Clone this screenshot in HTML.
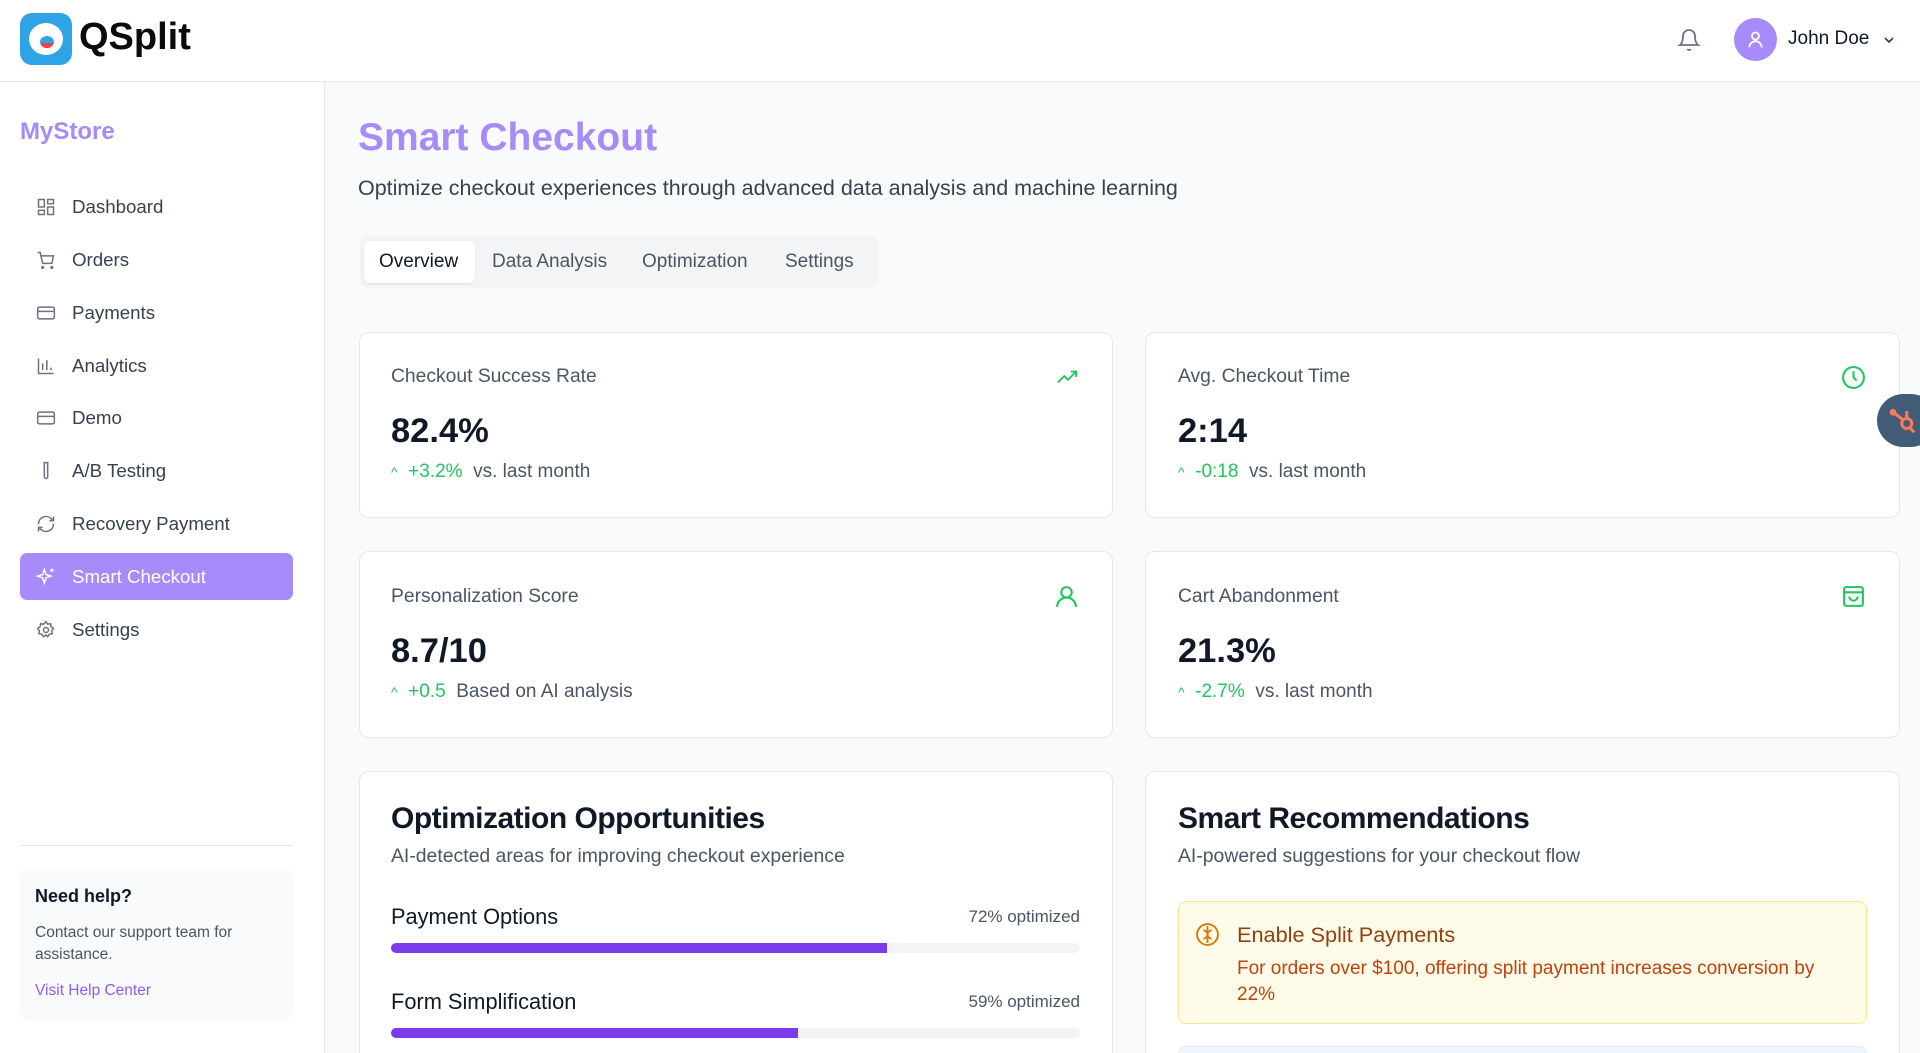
<!DOCTYPE html>
<html><head><meta charset="utf-8"><style>
*{box-sizing:border-box;margin:0;padding:0}
html{overflow:hidden}
body{width:1920px;height:1053px;overflow:hidden;background:#f9fafb;font-family:"Liberation Sans",Arial,sans-serif;position:relative;color:#111827}
.abs{position:absolute}
.header{left:0;top:0;width:1920px;height:82px;background:#fff;border-bottom:1px solid #e5e7eb}
.side{left:0;top:82px;width:325px;height:971px;background:#fff;border-right:1px solid #e5e7eb}
.nav{left:20px;width:273px;height:47px;border-radius:7px;font-size:18.7px;color:#374151;display:flex;align-items:center;padding-left:52px}
.nav svg{position:absolute;left:16px;top:14px}
.card{background:#fff;border:1px solid #e5e7eb;border-radius:10px}
.ct{font-size:19.3px;color:#4b5563}
.cv{font-size:34.5px;font-weight:bold;color:#111827}
.cc{font-size:19px;color:#4b5563}
.cc b{color:#22c55e;font-weight:normal}
</style></head><body>
<div class="abs header">
 <div class="abs" style="left:20px;top:13px;width:52px;height:52px;background:#2ea3e6;border-radius:12px">
  <div class="abs" style="left:9px;top:10px;width:34px;height:32px;background:#fff;border-radius:50%"></div>
  <div class="abs" style="left:20px;top:23px;width:14px;height:12px;background:#2ea3e6;border-radius:50%"></div>
  <div class="abs" style="left:21px;top:30px;width:12px;height:5px;background:#ef4444;border-radius:0 0 6px 6px"></div>
 </div>
 <div class="abs" style="left:79px;top:16px;font-size:38px;font-weight:bold;color:#0b0b0b">QSplit</div>
 <svg class="abs" style="left:1677px;top:27px" width="24" height="26" viewBox="0 0 24 24" fill="none" stroke="#6b7280" stroke-width="1.8"><path d="M6 8a6 6 0 0112 0c0 7 3 9 3 9H3s3-2 3-9"/><path d="M10.3 21a1.9 1.9 0 003.4 0"/></svg>
 <div class="abs" style="left:1734px;top:18px;width:43px;height:43px;border-radius:50%;background:#a78bfa"></div>
 <svg class="abs" style="left:1745px;top:29px" width="21" height="21" viewBox="0 0 24 24" fill="none" stroke="#fff" stroke-width="2"><circle cx="12" cy="8" r="4"/><path d="M5 21a7 7 0 0114 0"/></svg>
 <div class="abs" style="left:1788px;top:28px;font-size:19px;color:#111827">John Doe</div>
 <svg class="abs" style="left:1881px;top:32px" width="16" height="16" viewBox="0 0 24 24" fill="none" stroke="#374151" stroke-width="2.5"><path d="M6 9l6 6 6-6"/></svg>
</div>
<div class="abs side"></div>
<div class="abs" style="left:20px;top:118px;font-size:24px;font-weight:bold;color:#a78bfa">MyStore</div>
<div class="abs nav" style="top:183px"><svg width="20" height="20" viewBox="0 0 24 24" fill="none" stroke="#6b7280" stroke-width="1.8"><rect x="3" y="3" width="7" height="9"/><rect x="14" y="3" width="7" height="5"/><rect x="14" y="12" width="7" height="9"/><rect x="3" y="16" width="7" height="5"/></svg>Dashboard</div>
<div class="abs nav" style="top:236px"><svg width="20" height="20" viewBox="0 0 24 24" fill="none" stroke="#6b7280" stroke-width="1.8"><circle cx="8" cy="21" r="1"/><circle cx="19" cy="21" r="1"/><path d="M2 3h3l3 13h11l2-9H6"/></svg>Orders</div>
<div class="abs nav" style="top:289px"><svg width="20" height="20" viewBox="0 0 24 24" fill="none" stroke="#6b7280" stroke-width="1.8"><rect x="2" y="5" width="20" height="14" rx="2"/><path d="M2 10h20"/></svg>Payments</div>
<div class="abs nav" style="top:342px"><svg width="20" height="20" viewBox="0 0 24 24" fill="none" stroke="#6b7280" stroke-width="1.8"><path d="M3 3v18h18M8 17V9M13 17V5M18 17v-3"/></svg>Analytics</div>
<div class="abs nav" style="top:394px"><svg width="20" height="20" viewBox="0 0 24 24" fill="none" stroke="#6b7280" stroke-width="1.8"><rect x="2" y="5" width="20" height="14" rx="2"/><path d="M2 10h20"/></svg>Demo</div>
<div class="abs nav" style="top:447px"><svg width="20" height="20" viewBox="0 0 24 24" fill="none" stroke="#6b7280" stroke-width="1.8"><path d="M10 2v17a2 2 0 004 0V2M9 2h6"/></svg>A/B Testing</div>
<div class="abs nav" style="top:500px"><svg width="20" height="20" viewBox="0 0 24 24" fill="none" stroke="#6b7280" stroke-width="1.8"><path d="M3 12a9 9 0 0115-6.7L21 8M21 3v5h-5M21 12a9 9 0 01-15 6.7L3 16M3 21v-5h5"/></svg>Recovery Payment</div>
<div class="abs nav" style="top:553px;background:#a78bfa;color:#fff"><svg width="20" height="20" viewBox="0 0 24 24" fill="none" stroke="#fff" stroke-width="1.8"><path d="M10 3l2 6 6 2-6 2-2 6-2-6-6-2 6-2zM19 2v4M17 4h4"/></svg>Smart Checkout</div>
<div class="abs nav" style="top:606px"><svg width="20" height="20" viewBox="0 0 24 24" fill="none" stroke="#6b7280" stroke-width="1.8"><circle cx="12" cy="12" r="3"/><path d="M12 2l2 3 3.5-.5.5 3.5 3 2-2 3 .5 3.5-3.5.5-2 3-2-2-3 2-2-3-3.5-.5.5-3.5-2-3 3-2 .5-3.5 3.5.5z"/></svg>Settings</div>
<div class="abs" style="left:20px;top:845px;width:273px;height:1px;background:#e5e7eb"></div>
<div class="abs" style="left:20px;top:869px;width:273px;height:151px;background:#f9fafb;border-radius:8px"></div>
<div class="abs" style="left:35px;top:886px;font-size:18px;font-weight:bold;color:#111827">Need help?</div>
<div class="abs" style="left:35px;top:922px;font-size:15.5px;line-height:22px;color:#4b5563;width:240px">Contact our support team for assistance.</div>
<div class="abs" style="left:35px;top:982px;font-size:15.5px;color:#8b5cf6">Visit Help Center</div>

<div class="abs" style="left:358px;top:116px;font-size:39px;font-weight:bold;color:#a78bfa">Smart Checkout</div>
<div class="abs" style="left:358px;top:176px;font-size:21.5px;color:#374151">Optimize checkout experiences through advanced data analysis and machine learning</div>
<div class="abs" style="left:360px;top:236px;width:518px;height:52px;background:#f3f4f6;border-radius:8px"></div>
<div class="abs" style="left:364px;top:241px;width:111px;height:42px;background:#fff;border-radius:6px;box-shadow:0 1px 2px rgba(0,0,0,.08)"></div>
<div class="abs" style="left:379px;top:251px;font-size:19px;color:#111827">Overview</div>
<div class="abs" style="left:492px;top:251px;font-size:19px;color:#4b5563">Data Analysis</div>
<div class="abs" style="left:642px;top:251px;font-size:19px;color:#4b5563">Optimization</div>
<div class="abs" style="left:785px;top:251px;font-size:19px;color:#4b5563">Settings</div>

<div class="abs card" style="left:359px;top:332px;width:754px;height:186px"></div>
<div class="abs card" style="left:1145px;top:332px;width:755px;height:186px"></div>
<div class="abs card" style="left:359px;top:551px;width:754px;height:187px"></div>
<div class="abs card" style="left:1145px;top:551px;width:755px;height:187px"></div>
<div class="abs card" style="left:359px;top:771px;width:754px;height:300px"></div>
<div class="abs card" style="left:1145px;top:771px;width:755px;height:300px"></div>

<div class="abs ct" style="left:391px;top:366px">Checkout Success Rate</div>
<div class="abs cv" style="left:391px;top:412px">82.4%</div>
<div class="abs cc" style="left:391px;top:461px"><b><span style="font-size:14px">^</span>&nbsp; +3.2%</b>&nbsp; vs. last month</div>
<svg class="abs" style="left:1054px;top:366px" width="26" height="22" viewBox="0 0 24 24" fill="none" stroke="#22c55e" stroke-width="2"><path d="M2 18l7-7 4 4 9-9M16 6h6v6"/></svg>

<div class="abs ct" style="left:1178px;top:366px">Avg. Checkout Time</div>
<div class="abs cv" style="left:1178px;top:412px">2:14</div>
<div class="abs cc" style="left:1178px;top:461px"><b><span style="font-size:14px">^</span>&nbsp; -0:18</b>&nbsp; vs. last month</div>
<svg class="abs" style="left:1841px;top:365px" width="25" height="25" viewBox="0 0 24 24" fill="none" stroke="#22c55e" stroke-width="2"><circle cx="12" cy="12" r="10"/><path d="M12 6v6l3 3"/></svg>

<div class="abs ct" style="left:391px;top:586px">Personalization Score</div>
<div class="abs cv" style="left:391px;top:632px">8.7/10</div>
<div class="abs cc" style="left:391px;top:681px"><b><span style="font-size:14px">^</span>&nbsp; +0.5</b>&nbsp; Based on AI analysis</div>
<svg class="abs" style="left:1054px;top:584px" width="25" height="25" viewBox="0 0 24 24" fill="none" stroke="#22c55e" stroke-width="2"><circle cx="12" cy="8" r="5"/><path d="M3 22a9 9 0 0118 0"/></svg>

<div class="abs ct" style="left:1178px;top:586px">Cart Abandonment</div>
<div class="abs cv" style="left:1178px;top:632px">21.3%</div>
<div class="abs cc" style="left:1178px;top:681px"><b><span style="font-size:14px">^</span>&nbsp; -2.7%</b>&nbsp; vs. last month</div>
<svg class="abs" style="left:1841px;top:584px" width="25" height="25" viewBox="0 0 24 24" fill="none" stroke="#22c55e" stroke-width="2"><rect x="3" y="3" width="18" height="18" rx="2"/><path d="M3 8h18M8 12a4 4 0 008 0"/></svg>

<div class="abs" style="left:391px;top:802px;font-size:30px;font-weight:bold;letter-spacing:-0.5px">Optimization Opportunities</div>
<div class="abs" style="left:391px;top:845px;font-size:19.4px;color:#4b5563">AI-detected areas for improving checkout experience</div>
<div class="abs" style="left:391px;top:904px;font-size:21.8px;color:#111827">Payment Options</div>
<div class="abs" style="left:940px;top:907px;width:140px;text-align:right;font-size:17px;color:#4b5563">72% optimized</div>
<div class="abs" style="left:391px;top:943px;width:689px;height:10px;background:#f3f4f6;border-radius:5px"><div style="width:72%;height:10px;background:#7c3aed;border-radius:5px 0 0 5px"></div></div>
<div class="abs" style="left:391px;top:989px;font-size:21.8px;color:#111827">Form Simplification</div>
<div class="abs" style="left:940px;top:992px;width:140px;text-align:right;font-size:17px;color:#4b5563">59% optimized</div>
<div class="abs" style="left:391px;top:1028px;width:689px;height:10px;background:#f3f4f6;border-radius:5px"><div style="width:59%;height:10px;background:#7c3aed;border-radius:5px 0 0 5px"></div></div>

<div class="abs" style="left:1178px;top:802px;font-size:30px;font-weight:bold;letter-spacing:-0.5px">Smart Recommendations</div>
<div class="abs" style="left:1178px;top:845px;font-size:19.4px;color:#4b5563">AI-powered suggestions for your checkout flow</div>
<div class="abs" style="left:1178px;top:901px;width:689px;height:123px;background:#fefce8;border:1px solid #fde68a;border-radius:8px"></div>
<svg class="abs" style="left:1195px;top:922px" width="25" height="25" viewBox="0 0 24 24" fill="none" stroke="#d97706" stroke-width="1.8"><circle cx="12" cy="12" r="10"/><path d="M12 4v16M8 8c2 0 4 2 4 4M16 8c-2 0-4 2-4 4M8 16c2 0 4-2 4-4M16 16c-2 0-4-2-4-4"/></svg>
<div class="abs" style="left:1237px;top:922px;font-size:21.7px;color:#92400e">Enable Split Payments</div>
<div class="abs" style="left:1237px;top:956px;width:600px;font-size:19px;line-height:26px;color:#c2410c">For orders over $100, offering split payment increases conversion by 22%</div>
<div class="abs" style="left:1178px;top:1046px;width:689px;height:20px;background:#eff6ff;border:1px solid #dbeafe;border-radius:8px"></div>

<div class="abs" style="left:1877px;top:394px;width:60px;height:53px;background:#425b76;border-radius:27px"></div>
<svg class="abs" style="left:1888px;top:406px" width="30" height="30" viewBox="0 0 24 24" fill="none" stroke="#ff7a59" stroke-width="2.4"><circle cx="15" cy="14" r="4"/><path d="M4 5l8 6M15 4v6M18 18l3 3"/><circle cx="4" cy="5" r="1.5" fill="#ff7a59"/></svg>
</body></html>
